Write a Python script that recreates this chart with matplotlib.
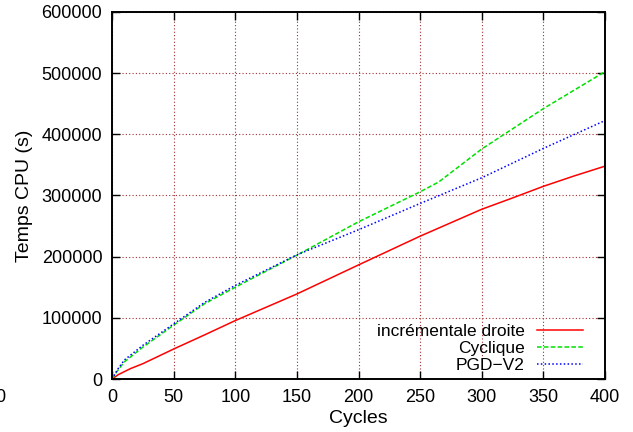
import matplotlib
matplotlib.use("Agg")
import matplotlib.pyplot as plt

plt.rcParams["font.family"] = ["Liberation Sans", "DejaVu Sans"]

# values (Cycles -> Temps CPU in s)
cycles_red = [0, 5, 15, 25, 50, 75, 100, 150, 200, 250, 300, 325, 350, 375, 400]
cpu_red = [0, 7000, 17000, 25000, 49000, 72000, 95500, 139000, 186500, 233500,
           277500, 296000, 315000, 332000, 348000]

cycles_green = [0, 5, 10, 25, 50, 75, 100, 150, 200, 250, 265, 300, 350, 400]
cpu_green = [0, 15000, 28000, 52000, 88000, 123000, 150000, 202500, 257000,
             306000, 322000, 376000, 442000, 502500]

cycles_blue = [0, 5, 10, 25, 50, 75, 100, 150, 200, 250, 300, 350, 400]
cpu_blue = [0, 17000, 31000, 55000, 90000, 125000, 153000, 203000, 244000,
            287000, 329000, 377000, 422500]

labels = ["incrémentale droite", "Cyclique", "PGD\u2212V2"]

fig = plt.figure(figsize=(6.33, 4.32), dpi=100)
ax = fig.add_axes([112 / 633, 1 - 379 / 432, 493 / 633, 367 / 432])

ax.plot(cycles_red, cpu_red, color="#ff0000", lw=1.1, label=labels[0])
ax.plot(cycles_green, cpu_green, color="#00e000", lw=1.1, ls=(0, (3, 1.5)), label=labels[1])
ax.plot(cycles_blue, cpu_blue, color="#0000ff", lw=1.1, ls=(0, (1, 1.5)), label=labels[2])

ax.set_xlim(0, 400)
ax.set_ylim(0, 600000)
ax.set_xticks(range(0, 401, 50))
ax.set_yticks(range(0, 600001, 100000))
ax.grid(True, color="#a03030", ls=(0, (1, 2)), lw=0.8)
ax.tick_params(direction="in", length=6, width=1, top=True, right=True,
               labelsize=13, pad=7, colors="black")
for s in ax.spines.values():
    s.set_linewidth(1.4)

ax.set_xlabel("Cycles", fontsize=14, labelpad=3)
ax.set_ylabel("Temps CPU (s)", fontsize=14, labelpad=6)

# clipped stray tick label at the far left of the picture
fig.text(0.0, 1 - 397 / 432, "0", fontsize=13, ha="center", va="center")

leg = ax.legend(loc="lower right", bbox_to_anchor=(1 - 22 / 493, 6 / 367),
                frameon=False, markerfirst=False, fontsize=12.5,
                handlelength=2.65, handletextpad=0.7, labelspacing=0.1,
                borderpad=0, borderaxespad=0)

fig.savefig("out.png", dpi=100)
